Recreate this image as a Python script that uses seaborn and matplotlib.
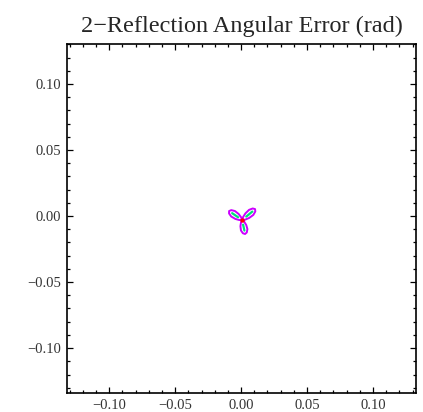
import matplotlib
matplotlib.use("Agg")
import matplotlib.pyplot as plt
from matplotlib.ticker import MultipleLocator, FuncFormatter
import seaborn as sns
import pandas as pd

# Outer (magenta) trefoil outline (rad)
outer_x = [0.0008, 0.00307, 0.00616, 0.00926, 0.01076, 0.01057,
           0.00882, 0.00602, 0.00326, 0.00145, 0.0008,
           0.00002, -0.00188, -0.00471, -0.00746, -0.0091,
           -0.00916, -0.00755, -0.00444, -0.0014, 0.0008,
           -0.00009, -0.00052, -0.00012, 0.00135, 0.00299,
           0.00429, 0.00478, 0.00388, 0.00235, 0.0008]
outer_y = [-0.0030, -0.00271, -0.00141, 0.00088, 0.00347, 0.00527,
           0.00575, 0.0047, 0.00203, -0.00081, -0.0030,
           -0.00095, 0.00158, 0.00382, 0.0045, 0.0038,
           0.00202, -0.0003, -0.00214, -0.00301, -0.0030,
           -0.00484, -0.00769, -0.01091, -0.01303, -0.01357,
           -0.01243, -0.00989, -0.00677, -0.00434, -0.0030]

# Inner (green) strokes inside each lobe
inner1_x = [0.0039, 0.0085]
inner1_y = [-0.0004, 0.0034]
inner2_x = [-0.0023, -0.0068]
inner2_y = [-0.0009, 0.0022]
inner3_x = [0.0015, 0.0025]
inner3_y = [-0.0065, -0.0110]

# Central (red) point
center_x = [0.0008]
center_y = [-0.0030]

sns.set_style("white")
plt.rcParams['font.family'] = ['Liberation Serif', 'DejaVu Serif']
plt.rcParams['axes.unicode_minus'] = True

fig = plt.figure(figsize=(4.23, 4.12), dpi=100)
ax = fig.add_axes([0.1584, 0.0461, 0.8251, 0.8471])

df_outer = pd.DataFrame({"x": outer_x, "y": outer_y})
sns.lineplot(data=df_outer, x="x", y="y", sort=False, estimator=None,
             color="#cc00ff", lw=1.4, ax=ax)
for xs, ys in [(inner1_x, inner1_y), (inner2_x, inner2_y), (inner3_x, inner3_y)]:
    sns.lineplot(x=xs, y=ys, sort=False, estimator=None, color="#00e07a",
                 lw=1.6, ax=ax)
sns.scatterplot(x=center_x, y=center_y, color="#ff0000", s=10, linewidth=0,
                ax=ax, zorder=5)

ax.set_xlim(-0.132, 0.1326)
ax.set_ylim(-0.134, 0.1303)

for s in ax.spines.values():
    s.set_visible(True)
    s.set_color('black')
    s.set_linewidth(1.2)

fmt = FuncFormatter(lambda v, p: ("%.2f" % v).replace("-", "\u2212"))
ax.xaxis.set_major_locator(MultipleLocator(0.05))
ax.xaxis.set_minor_locator(MultipleLocator(0.01))
ax.yaxis.set_major_locator(MultipleLocator(0.05))
ax.yaxis.set_minor_locator(MultipleLocator(0.01))
ax.xaxis.set_major_formatter(fmt)
ax.yaxis.set_major_formatter(fmt)
ax.tick_params(which='both', direction='in', top=True, right=True,
               bottom=True, left=True, color='black', width=0.9)
ax.tick_params(which='major', length=4.5, labelsize=10.5, labelcolor='#333333', pad=4)
ax.tick_params(which='minor', length=2.5)

ax.set_xlabel("")
ax.set_ylabel("")
ax.set_title("2\u2212Reflection Angular Error (rad)", fontsize=17.5, pad=9)

fig.savefig("out.png", dpi=100)
